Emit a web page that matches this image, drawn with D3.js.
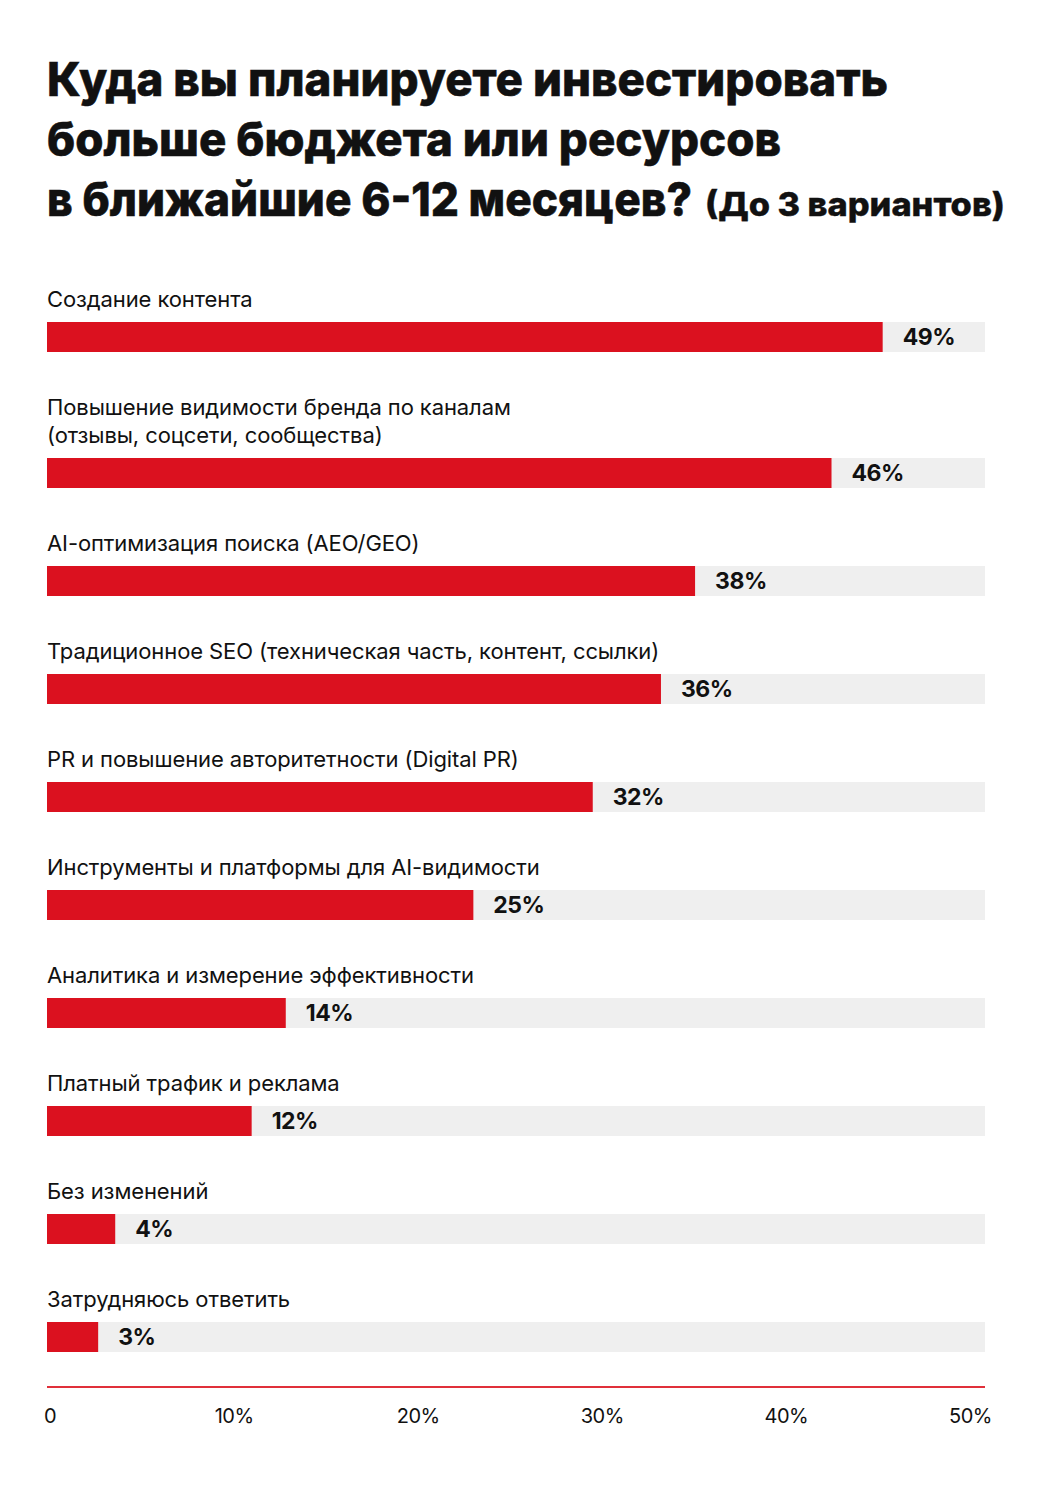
<!DOCTYPE html>
<html><head><meta charset="utf-8">
<script src="https://cdn.jsdelivr.net/npm/d3@7"></script>
<style>
html,body{margin:0;padding:0;background:#fff;}
svg{display:block;}
</style></head>
<body>
<script>
const titleLines = ["Куда вы планируете инвестировать", "больше бюджета или ресурсов", "в ближайшие 6-12 месяцев?"];
const titleNote = "(До 3 вариантов)";
const categories = [
  ["Создание контента"],
  ["Повышение видимости бренда по каналам", "(отзывы, соцсети, сообщества)"],
  ["AI-оптимизация поиска (AEO/GEO)"],
  ["Традиционное SEO (техническая часть, контент, ссылки)"],
  ["PR и повышение авторитетности (Digital PR)"],
  ["Инструменты и платформы для AI-видимости"],
  ["Аналитика и измерение эффективности"],
  ["Платный трафик и реклама"],
  ["Без изменений"],
  ["Затрудняюсь ответить"]
];
const values = [49, 46, 38, 36, 32, 25, 14, 12, 4, 3];
const tickValues = [0, 10, 20, 30, 40, 50];
const tickLabels = ["0", "10%", "20%", "30%", "40%", "50%"];

const W = 1052, H = 1495;
const RED = "#db111f", TRACK = "#efefef", INK = "#111";
const left = 47, right = 985;
const rowStep = 108, lineH = 28, firstBarTop = 322, barH = 30;

const svg = d3.select("body").append("svg").attr("width", W).attr("height", H);

// Title
const tFont = "Inter, 'Liberation Sans', Arial, sans-serif";
const titleTargets = [841, 734, 645];
const tg = svg.append("g");
titleLines.forEach((t, i) => {
  tg.append("text")
    .attr("x", left).attr("y", 96 + i * 60)
    .attr("font-family", tFont).attr("font-weight", 800)
    .attr("font-size", 47).attr("fill", INK)
    .attr("stroke", INK).attr("stroke-width", 0.6)
    .attr("textLength", titleTargets[i]).attr("lengthAdjust", "spacingAndGlyphs")
    .text(t);
});
tg.append("text")
  .attr("x", 705).attr("y", 216)
  .attr("font-family", tFont).attr("font-weight", 800)
  .attr("font-size", 33).attr("fill", INK)
  .attr("stroke", INK).attr("stroke-width", 0.4)
  .attr("textLength", 300).attr("lengthAdjust", "spacingAndGlyphs")
  .text(titleNote);

// scales
const x = d3.scaleLinear().domain([0, 55]).range([left, right]);
const xAxisScale = d3.scaleLinear().domain([0, 50]).range([49.5, 970]);

// row positions from cumulative label lines (including each row's own extra lines)
const extra = [];
let acc = 0;
categories.forEach((c) => { acc += (c.length - 1); extra.push(acc); });
const rowIdx = d3.scaleLinear().domain([0, 1]).range([firstBarTop, firstBarTop + rowStep]);
const barTop = i => rowIdx(i) + extra[i] * lineH;

const data = categories.map((c, i) => ({ lines: c, v: values[i], i }));

const lFont = "Inter, 'Noto Sans', sans-serif";
const rows = svg.append("g").selectAll("g").data(data).join("g");

rows.append("rect")
  .attr("x", x(0)).attr("y", d => barTop(d.i))
  .attr("width", x.range()[1] - x(0)).attr("height", barH)
  .attr("fill", TRACK);

rows.append("rect")
  .attr("x", x(0)).attr("y", d => barTop(d.i))
  .attr("width", d => x(d.v) - x(0)).attr("height", barH)
  .attr("fill", RED);

rows.append("text")
  .attr("x", d => x(d.v) + 20).attr("y", d => barTop(d.i) + barH / 2)
  .attr("dy", "0.36em")
  .attr("font-family", lFont).attr("font-weight", 700)
  .attr("font-size", 23).attr("fill", INK)
  .attr("letter-spacing", -0.5)
  .text(d => d.v + "%");

rows.each(function(d) {
  const g = d3.select(this);
  const n = d.lines.length;
  d.lines.forEach((ln, k) => {
    g.append("text")
      .attr("x", left).attr("y", barTop(d.i) - 15 - (n - 1 - k) * lineH)
      .attr("font-family", lFont).attr("font-weight", 400)
      .attr("font-size", 22).attr("fill", INK)
      .attr("letter-spacing", -0.1)
      .text(ln);
  });
});

// Axis
const axisY = 1387;
svg.append("line")
  .attr("x1", x.range()[0]).attr("x2", x.range()[1])
  .attr("y1", axisY).attr("y2", axisY)
  .attr("stroke", "#e0303a").attr("stroke-width", 2);

const axis = d3.axisBottom(xAxisScale)
  .tickValues(tickValues)
  .tickFormat((d, i) => tickLabels[i])
  .tickSize(0).tickPadding(0);
const ag = svg.append("g").attr("transform", `translate(0,${axisY + 22})`).call(axis);
ag.select(".domain").remove();
ag.selectAll("text")
  .attr("font-family", lFont).attr("font-size", 20).attr("fill", INK)
  .attr("letter-spacing", -0.5);
</script>
</body></html>
